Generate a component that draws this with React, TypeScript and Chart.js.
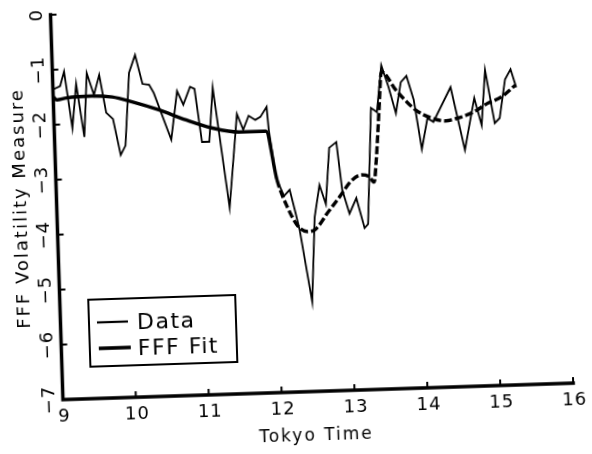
import { useEffect, useRef } from 'react';
import { Chart, registerables } from 'chart.js';
Chart.register(...registerables);

const dataTimes = [
  9.0, 9.1, 9.16, 9.25, 9.32, 9.41, 9.47, 9.56, 9.64, 9.72, 9.81, 9.9, 9.97, 10.05, 10.14, 10.23, 10.32, 10.38,
  10.6, 10.7, 10.78, 10.88, 10.94, 11.02, 11.12, 11.19, 11.37, 11.51, 11.59, 11.67, 11.76, 11.83, 11.92, 11.94,
  12.02, 12.12, 12.2, 12.27, 12.32, 12.46, 12.53, 12.61, 12.69, 12.76, 12.86, 12.92, 13.01, 13.11, 13.21, 13.26,
  13.35, 13.43, 13.51, 13.6, 13.69, 13.77, 13.85, 13.94, 14.03, 14.12, 14.2, 14.45, 14.62, 14.77, 14.86, 14.93,
  15.04, 15.11, 15.2, 15.28, 15.35,
];
const dataValues = [
  -1.36, -1.3, -1.04, -2.07, -1.27, -2.24, -1.08, -1.48, -1.12, -1.81, -1.93, -2.59, -2.42, -1.1, -0.78, -1.31, -1.33, -1.48,
  -2.34, -1.46, -1.71, -1.39, -1.43, -2.4, -2.4, -1.42, -3.61, -1.91, -2.2, -1.95, -2.03, -1.98, -1.8, -2.22,
  -3.1, -3.43, -3.32, -3.74, -4.06, -5.37, -3.84, -3.25, -3.6, -2.58, -2.48, -3.35, -3.79, -3.51, -4.06, -3.99,
  -1.88, -1.96, -1.11, -1.51, -1.99, -1.43, -1.32, -1.76, -2.66, -2.1, -2.17, -1.55, -2.7, -1.76, -2.26, -1.26,
  -2.23, -2.14, -1.44, -1.26, -1.59,
];
const fitTimes = [
  9.0, 9.05, 9.18, 9.53, 9.81, 10.08, 10.44, 10.81, 11.16, 11.53, 11.9, 12.03, 12.16, 12.3, 12.43, 12.53, 12.71,
  12.88, 13.06, 13.19, 13.3, 13.36, 13.4, 13.46, 13.51, 13.7, 13.96, 14.18, 14.37, 14.55, 14.73, 14.96, 15.14, 15.34,
];
const fitValues = [
  -1.49, -1.55, -1.52, -1.5, -1.53, -1.63, -1.79, -1.99, -2.15, -2.24, -2.24, -3.13, -3.63, -3.99, -4.09, -4.06, -3.76,
  -3.48, -3.18, -3.09, -3.13, -3.23, -2.83, -1.92, -1.23, -1.57, -1.94, -2.1, -2.16, -2.11, -2.03, -1.86, -1.76, -1.55,
];
const xTicks = [9, 10, 11, 12, 13, 14, 15, 16];
const yTicks = [0, -1, -2, -3, -4, -5, -6, -7];
const xTitle = 'Tokyo Time';
const yTitle = 'FFF Volatility Measure';
const seriesLabels = ['Data', 'FFF Fit'];

const FONT = '"DejaVu Sans", "Liberation Sans", sans-serif';

const overlay = {
  id: 'overlay',
  afterDraw(chart: any) {
    const { ctx, chartArea, scales } = chart;
    const x = scales.x;
    const y = scales.y;
    const L = chartArea.left;
    const B = chartArea.bottom;
    const T = chartArea.top;
    const R = chartArea.right;
    ctx.save();
    ctx.fillStyle = '#000';
    ctx.strokeStyle = '#000';
    // axes
    ctx.lineWidth = 3.5;
    ctx.lineCap = 'square';
    ctx.beginPath();
    ctx.moveTo(L, T);
    ctx.lineTo(L, B);
    ctx.lineTo(R, B);
    ctx.stroke();
    ctx.lineCap = 'butt';
    // ticks
    ctx.lineWidth = 2;
    for (const v of xTicks) {
      const px = x.getPixelForValue(v);
      ctx.beginPath();
      ctx.moveTo(px, B);
      ctx.lineTo(px, B - 6);
      ctx.stroke();
    }
    for (const v of yTicks) {
      const py = y.getPixelForValue(v);
      ctx.beginPath();
      ctx.moveTo(L, py);
      ctx.lineTo(L + 6, py);
      ctx.stroke();
    }
    // x tick labels
    (ctx as any).letterSpacing = '1px';
    ctx.font = `18px ${FONT}`;
    ctx.textAlign = 'center';
    ctx.textBaseline = 'alphabetic';
    for (const v of xTicks) {
      ctx.fillText(String(v), x.getPixelForValue(v) + 1, B + 22);
    }
    // y tick labels (rotated)
    for (const v of yTicks) {
      const py = y.getPixelForValue(v);
      ctx.save();
      ctx.translate(L - 8.5, py);
      ctx.rotate(-Math.PI / 2);
      const lbl = v === 0 ? '0' : '\u2212' + String(Math.abs(v));
      ctx.fillText(lbl, 0, 0);
      ctx.restore();
    }
    // titles
    (ctx as any).letterSpacing = '2px';
    ctx.font = `17px ${FONT}`;
    ctx.fillText(xTitle, (L + R) / 2 - 3, 441);
    ctx.save();
    ctx.translate(27, (T + B) / 2);
    ctx.rotate(-Math.PI / 2);
    ctx.font = `18px ${FONT}`;
    ctx.fillText(yTitle, 0, 0);
    ctx.restore();
    // legend
    ctx.lineWidth = 2;
    ctx.strokeRect(86, 293, 147, 67);
    ctx.beginPath();
    ctx.lineWidth = 2.2;
    ctx.moveTo(94, 316);
    ctx.lineTo(125, 316);
    ctx.stroke();
    ctx.beginPath();
    ctx.lineWidth = 3.6;
    ctx.moveTo(95, 342);
    ctx.lineTo(127, 342);
    ctx.stroke();
    (ctx as any).letterSpacing = '1.5px';
    ctx.font = `22px ${FONT}`;
    ctx.textAlign = 'left';
    const labels = chart.data.datasets.map((d: any) => d.label);
    ctx.fillText(labels[0], 134, 324);
    ctx.fillText(labels[1], 134, 350);
    ctx.restore();
  },
};

export default function App() {
  const ref = useRef<HTMLCanvasElement>(null);
  useEffect(() => {
    const canvas = ref.current!;
    const chart = new Chart(canvas, {
      type: 'scatter',
      data: {
        datasets: [
          {
            label: seriesLabels[0],
            data: dataTimes.map((t, i) => ({ x: t, y: dataValues[i] })),
            showLine: true,
            borderColor: '#000',
            backgroundColor: '#000',
            borderWidth: 1.8,
            pointRadius: 0,
            tension: 0,
          },
          {
            label: seriesLabels[1],
            data: fitTimes.map((t, i) => ({ x: t, y: fitValues[i] })),
            showLine: true,
            borderColor: '#000',
            backgroundColor: '#000',
            borderWidth: 3.4,
            pointRadius: 0,
            cubicInterpolationMode: 'monotone',
            segment: {
              borderDash: (c: any) => (c.p0.parsed.x >= 11.95 ? [8, 3] : undefined),
            },
          },
        ],
      },
      options: {
        responsive: false,
        animation: false,
        devicePixelRatio: 1,
        layout: { padding: { top: 7, right: 24, left: 0, bottom: 0 } },
        plugins: { legend: { display: false }, tooltip: { enabled: false } },
        scales: {
          x: {
            type: 'linear',
            min: 9,
            max: 16,
            afterFit: (s: any) => {
              s.height = 62;
            },
            ticks: { display: false, stepSize: 1 },
            grid: { display: false },
            border: { display: false },
          },
          y: {
            type: 'linear',
            min: -7,
            max: 0,
            afterFit: (s: any) => {
              s.width = 57.5;
            },
            ticks: { display: false, stepSize: 1 },
            grid: { display: false },
            border: { display: false },
          },
        },
      } as any,
      plugins: [overlay],
    });
    return () => chart.destroy();
  }, []);
  return (
    <div style={{ position: 'absolute', left: 0, top: 0, width: 592, height: 454, background: '#fff' }}>
      <canvas
        ref={ref}
        width={592}
        height={454}
        style={{ display: 'block', transform: 'rotate(-1.85deg)', transformOrigin: '296px 227px' }}
      />
    </div>
  );
}
